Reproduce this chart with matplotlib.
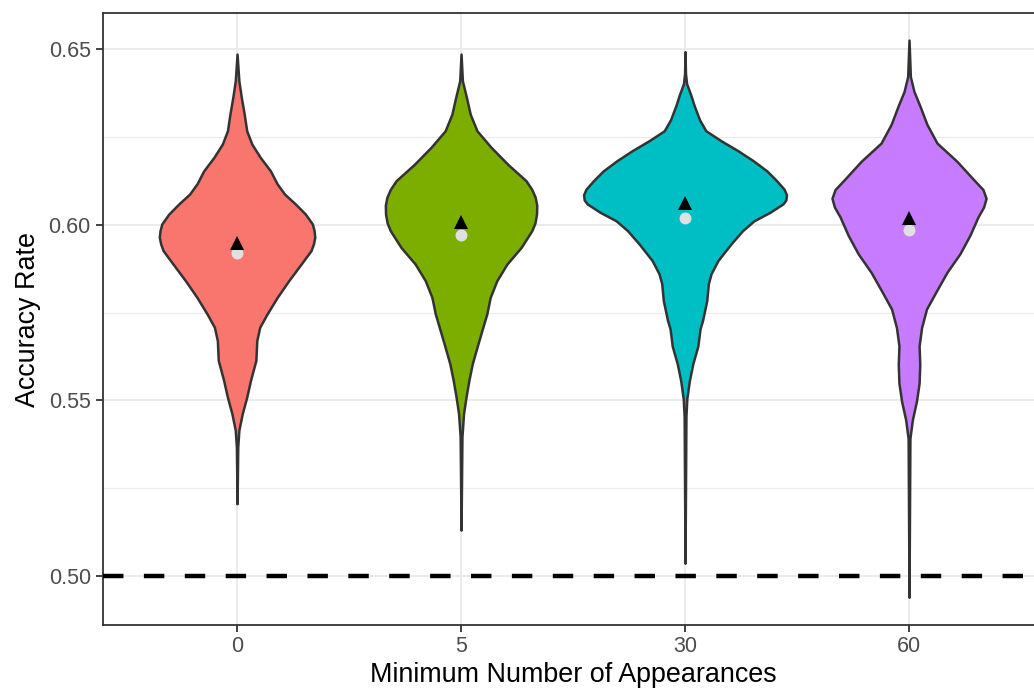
import numpy as np
import matplotlib.pyplot as plt

plt.rcParams['font.family'] = ['Liberation Sans', 'DejaVu Sans']

min_appearances = ['0', '5', '30', '60']
fill_colors = ['#F8766D', '#7CAE00', '#00BFC4', '#C77CFF']

# violin outlines: accuracy level and half width (x units)
acc_0 = [0.6485, 0.6409, 0.6362, 0.6314, 0.6267, 0.6229, 0.6191, 0.6153, 0.6116, 0.6087,
         0.6059, 0.6030, 0.6002, 0.5983, 0.5964, 0.5945, 0.5926, 0.5888, 0.5841, 0.5793,
         0.5746, 0.5708, 0.5670, 0.5614, 0.5557, 0.5509, 0.5462, 0.5415, 0.5367, 0.5206]
hw_0 = [0.0, 0.008, 0.019, 0.032, 0.043, 0.066, 0.104, 0.149, 0.179, 0.212,
        0.260, 0.305, 0.336, 0.344, 0.347, 0.341, 0.330, 0.286, 0.231, 0.179,
        0.134, 0.101, 0.088, 0.084, 0.060, 0.043, 0.023, 0.008, 0.003, 0.0]

acc_5 = [0.6485, 0.6409, 0.6362, 0.6314, 0.6267, 0.6220, 0.6172, 0.6125, 0.6100, 0.6078,
         0.6055, 0.6030, 0.6005, 0.5983, 0.5935, 0.5888, 0.5841, 0.5793, 0.5746, 0.5699,
         0.5651, 0.5604, 0.5557, 0.5509, 0.5462, 0.5396, 0.5131]
hw_5 = [0.0, 0.006, 0.024, 0.041, 0.071, 0.134, 0.208, 0.290, 0.316, 0.331,
        0.338, 0.337, 0.330, 0.316, 0.268, 0.205, 0.160, 0.130, 0.115, 0.093,
        0.071, 0.050, 0.035, 0.022, 0.011, 0.004, 0.0]

acc_30 = [0.6492, 0.6430, 0.6401, 0.6370, 0.6340, 0.6298, 0.6267, 0.6239, 0.6210, 0.6182,
          0.6153, 0.6125, 0.6101, 0.6085, 0.6070, 0.6059, 0.6035, 0.6011, 0.5983, 0.5945,
          0.5898, 0.5860, 0.5832, 0.5784, 0.5727, 0.5704, 0.5654, 0.5605, 0.5555, 0.5505,
          0.5455, 0.5037]
hw_30 = [0.0, 0.002, 0.007, 0.025, 0.040, 0.065, 0.093, 0.160, 0.237, 0.304,
         0.365, 0.409, 0.442, 0.453, 0.450, 0.437, 0.379, 0.308, 0.257, 0.205,
         0.147, 0.116, 0.104, 0.097, 0.078, 0.067, 0.057, 0.035, 0.019, 0.008,
         0.004, 0.0]

acc_60 = [0.6525, 0.6421, 0.6379, 0.6337, 0.6285, 0.6232, 0.6180, 0.6127, 0.6100, 0.6075,
          0.6050, 0.6022, 0.5970, 0.5917, 0.5865, 0.5812, 0.5760, 0.5707, 0.5655, 0.5602,
          0.5549, 0.5497, 0.5445, 0.5392, 0.4940]
hw_60 = [0.0, 0.006, 0.022, 0.049, 0.080, 0.125, 0.214, 0.290, 0.330, 0.344,
         0.333, 0.308, 0.272, 0.227, 0.170, 0.123, 0.078, 0.056, 0.045, 0.048,
         0.045, 0.033, 0.015, 0.004, 0.0]

mean_acc = [0.5947, 0.6007, 0.6062, 0.6020]
median_acc = [0.5920, 0.5970, 0.6018, 0.5984]
chance_level = 0.50

outlines = [(acc_0, hw_0), (acc_5, hw_5), (acc_30, hw_30), (acc_60, hw_60)]

fig = plt.figure(figsize=(10.34, 6.92), dpi=100)
# panel runs past the right edge, like the original export
ax = fig.add_axes([0.0993, 0.0968, 0.9098, 0.8844])

pos = np.arange(1, len(min_appearances) + 1)
for i, (acc, hw) in enumerate(outlines):
    acc = np.array(acc)
    hw = np.array(hw)
    ax.fill_betweenx(acc, pos[i] - hw, pos[i] + hw, facecolor=fill_colors[i],
                     edgecolor='#333333', linewidth=1.8, joinstyle='round', zorder=3)

ax.plot(pos, median_acc, 'o', color='#E0E0E0', markersize=8.6, markeredgewidth=0, zorder=4)
ax.plot(pos, mean_acc, '^', color='black', markersize=10.5, markeredgewidth=0, zorder=5)

ax.axhline(chance_level, color='black', linewidth=3.2, dashes=(4.6, 4.6), zorder=6)

ax.set_xlim(0.4, 4.6)
ax.set_ylim(0.4861, 0.6602)
ax.set_xticks(pos)
ax.set_xticklabels(min_appearances)
ax.set_yticks([0.50, 0.55, 0.60, 0.65])
ax.set_yticklabels(['0.50', '0.55', '0.60', '0.65'])
ax.set_yticks([0.525, 0.575, 0.625], minor=True)

ax.grid(True, which='major', color='#EBEBEB', linewidth=1.4, zorder=0)
ax.grid(True, which='minor', axis='y', color='#EBEBEB', linewidth=0.8, zorder=0)
ax.set_axisbelow(True)

ax.tick_params(axis='both', which='major', length=5, width=1.3, color='#333333',
               labelsize=15.5, labelcolor='#4D4D4D')
ax.tick_params(axis='x', pad=3)
ax.tick_params(axis='y', pad=3.5)
ax.tick_params(which='minor', length=0)
for sp in ax.spines.values():
    sp.set_color('#333333')
    sp.set_linewidth(1.3)

ax.set_xlabel('Minimum Number of Appearances', fontsize=19.4, color='black')
ax.set_ylabel('Accuracy Rate', fontsize=19.4, color='black')
ax.xaxis.set_label_coords((573 - 102.7) / 940.7, (625 - 675) / 612)
ax.xaxis.label.set_va('center')
ax.yaxis.set_label_coords((28 - 102.7) / 940.7, 0.5)
ax.yaxis.label.set_va('center')

fig.savefig('out.png', dpi=100)
plt.close(fig)
